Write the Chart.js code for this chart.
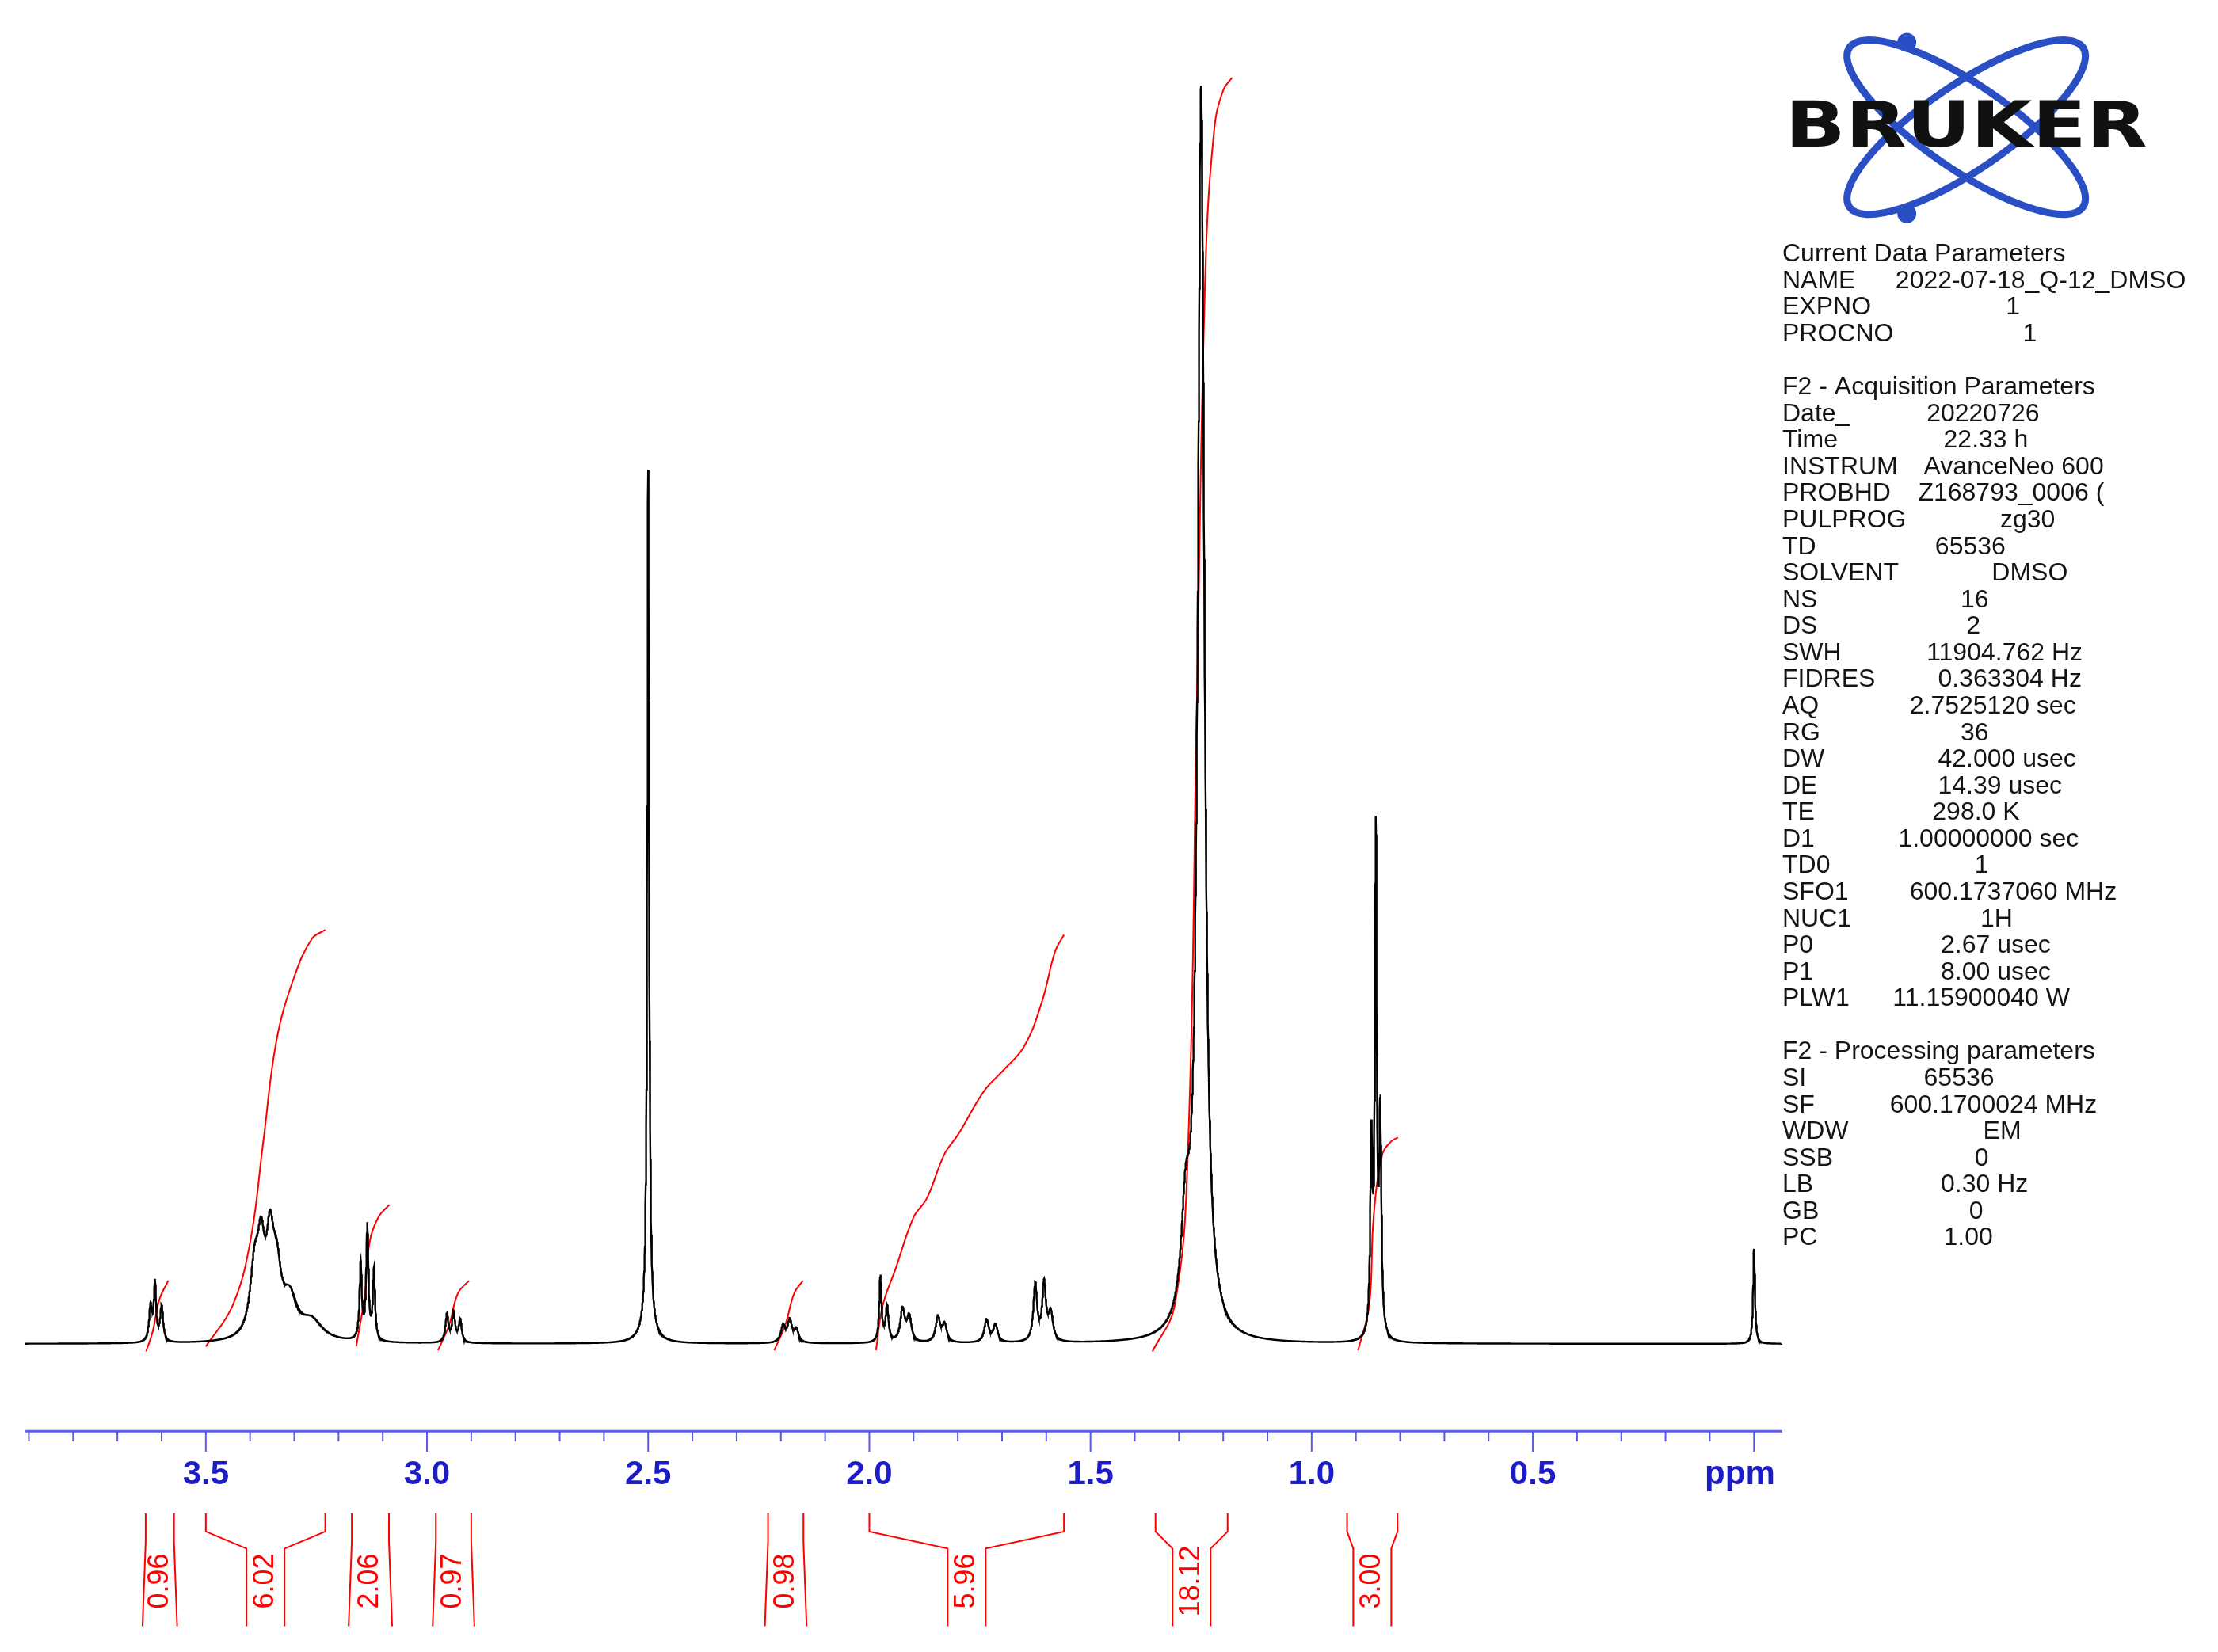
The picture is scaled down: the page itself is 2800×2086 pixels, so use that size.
<!DOCTYPE html>
<html><head><meta charset="utf-8">
<script src="https://cdn.jsdelivr.net/npm/chart.js@4.4.1/dist/chart.umd.min.js"></script>
<style>html,body{margin:0;padding:0;background:#fff;}canvas{display:block;}</style>
</head><body>
<canvas id="c" width="2800" height="2086"></canvas>
<script>
// ---- data ----
const peakPpm = [3.625,3.615,3.600, 3.39,3.375,3.355,3.34,3.31,3.26, 3.15,3.135,3.12, 2.955,2.94,2.925, 2.50,2.50, 2.195,2.18,2.165, 1.975,1.96,1.925,1.91,1.845,1.83,1.735,1.715,1.625,1.605,1.59, 1.25,1.285, 0.865,0.855,0.845, 0.00];
const peakHeight = [0.028,0.045,0.028, 0.05,0.06,0.065,0.045,0.03,0.015, 0.06,0.09,0.055, 0.022,0.024,0.018, 0.68,0.01, 0.013,0.017,0.01, 0.052,0.028,0.026,0.02,0.02,0.014,0.018,0.014,0.045,0.045,0.022, 0.985,0.08, 0.15,0.39,0.17, 0.075];
const peakWidth = [0.004,0.003,0.004, 0.012,0.01,0.01,0.012,0.02,0.03, 0.003,0.003,0.003, 0.004,0.004,0.004, 0.0025,0.02, 0.006,0.006,0.006, 0.003,0.004,0.006,0.006,0.006,0.006,0.006,0.006,0.005,0.005,0.006, 0.009,0.012, 0.003,0.0025,0.003, 0.0025];
const integrals = [
 [[3.635,-0.006],[3.62,0.01],[3.605,0.035],[3.585,0.05]],
 [[3.50,-0.002],[3.44,0.03],[3.40,0.08],[3.37,0.16],[3.34,0.24],[3.30,0.29],[3.26,0.32],[3.23,0.327]],
 [[3.16,-0.002],[3.14,0.04],[3.13,0.08],[3.11,0.10],[3.085,0.11]],
 [[2.975,-0.005],[2.95,0.015],[2.93,0.04],[2.905,0.05]],
 [[2.215,-0.005],[2.19,0.015],[2.17,0.04],[2.15,0.05]],
 [[1.985,-0.005],[1.97,0.03],[1.94,0.06],[1.90,0.10],[1.87,0.115],[1.83,0.15],[1.80,0.165],[1.74,0.20],[1.70,0.215],[1.65,0.235],[1.61,0.27],[1.58,0.31],[1.56,0.323]],
 [[1.36,-0.006],[1.31,0.03],[1.28,0.15],[1.26,0.5],[1.24,0.85],[1.22,0.96],[1.20,0.99],[1.18,1.0]],
 [[0.895,-0.005],[0.87,0.03],[0.86,0.10],[0.84,0.15],[0.82,0.16],[0.805,0.163]]
];
const integralRanges = [[3.636,3.572],[3.50,3.23],[3.17,3.086],[2.98,2.90],[2.229,2.149],[2.00,1.56],[1.353,1.19],[0.92,0.806]];
const integralLabels = ["0.96","6.02","2.06","0.97","0.98","5.96","18.12","3.00"];
const tickLabels = ["3.5","3.0","2.5","2.0","1.5","1.0","0.5"];
const tickValues = [3.5,3.0,2.5,2.0,1.5,1.0,0.5];
const params = [
 ["Current Data Parameters",""],["NAME","2022-07-18_Q-12_DMSO",1340],["EXPNO","1",1418],["PROCNO","1",1430],null,
 ["F2 - Acquisition Parameters",""],["Date_","20220726",1362],["Time","22.33 h",1374],["INSTRUM","AvanceNeo 600",1360],
 ["PROBHD","Z168793_0006 (",1356],["PULPROG","zg30",1414],["TD","65536",1368],["SOLVENT","DMSO",1408],["NS","16",1386],
 ["DS","2",1390],["SWH","11904.762 Hz",1362],["FIDRES","0.363304 Hz",1370],["AQ","2.7525120 sec",1350],["RG","36",1386],
 ["DW","42.000 usec",1370],["DE","14.39 usec",1370],["TE","298.0 K",1366],["D1","1.00000000 sec",1342],["TD0","1",1396],
 ["SFO1","600.1737060 MHz",1350],["NUC1","1H",1400],["P0","2.67 usec",1372],["P1","8.00 usec",1372],["PLW1","11.15900040 W",1338],null,
 ["F2 - Processing parameters",""],["SI","65536",1360],["SF","600.1700024 MHz",1336],["WDW","EM",1402],["SSB","0",1396],
 ["LB","0.30 Hz",1372],["GB","0",1392],["PC","1.00",1374]
];
// ---- spectrum from peak list ----
const spectrum = [];
for (let i = 0; i <= 7940; i++) {
  const x = 3.908 - i * 0.0005;
  let y = 0;
  for (let k = 0; k < peakPpm.length; k++) { const d = (x - peakPpm[k]) / peakWidth[k]; y += peakHeight[k] / (1 + d * d); }
  spectrum.push({x, y});
}
const S = 2800 / 1568;
const datasets = [{data: spectrum, borderColor:'#000', borderWidth:2.4, pointRadius:0, showLine:true, tension:0}];
integrals.forEach(r => datasets.push({data: r.map(p=>({x:p[0], y:p[1]})), borderColor:'#ff0000', borderWidth:2, pointRadius:0, showLine:true, tension:0.4}));

const deco = {
 id:'deco',
 afterDraw(chart){
  const ctx = chart.ctx, xs = chart.scales.x;
  const axY = 1012*S;
  ctx.save();
  ctx.strokeStyle = '#5b5be6'; ctx.lineWidth = 3;
  ctx.beginPath(); ctx.moveTo(18*S, axY); ctx.lineTo(1260*S, axY); ctx.stroke();
  ctx.lineWidth = 2;
  for (let i = 0; i <= 39; i++) {
    const v = i/10; const px = xs.getPixelForValue(v);
    const major = i % 5 === 0;
    ctx.beginPath(); ctx.moveTo(px, axY); ctx.lineTo(px, axY + (major ? 26 : 13)); ctx.stroke();
  }
  ctx.fillStyle = '#1c1cc8'; ctx.font = 'bold 42px "Liberation Sans", Arial'; ctx.textAlign='center'; ctx.textBaseline='middle';
  tickValues.forEach((v,i)=> ctx.fillText(tickLabels[i], xs.getPixelForValue(v), 1043*S));
  ctx.fillText('ppm', 1230*S, 1043*S);
  ctx.strokeStyle = '#ff0000'; ctx.lineWidth = 2; ctx.fillStyle = '#ff0000';
  ctx.font = '36px "Liberation Sans", Arial';
  const yT = 1070*S, yB = 1150*S;
  integralRanges.forEach((r,i)=>{
    const a = xs.getPixelForValue(r[0]), b = xs.getPixelForValue(r[1]);
    const c = (a+b)/2, half = 24;
    if (b - a > 60) {
      ctx.beginPath();
      ctx.moveTo(a, yT); ctx.lineTo(a, 1083*S); ctx.lineTo(c-half, 1095*S); ctx.lineTo(c-half, yB);
      ctx.moveTo(b, yT); ctx.lineTo(b, 1083*S); ctx.lineTo(c+half, 1095*S); ctx.lineTo(c+half, yB);
      ctx.stroke();
    } else {
      ctx.beginPath();
      ctx.moveTo(a, yT); ctx.lineTo(a, 1090*S); ctx.lineTo(a-4, yB);
      ctx.moveTo(b, yT); ctx.lineTo(b, 1090*S); ctx.lineTo(b+4, yB);
      ctx.stroke();
    }
    ctx.save(); ctx.translate(c, 1118*S); ctx.rotate(-Math.PI/2);
    ctx.textAlign='center'; ctx.textBaseline='middle'; ctx.fillText(integralLabels[i], 0, 0); ctx.restore();
  });
  // logo
  const cx = 1390*S, cy = 90*S;
  ctx.strokeStyle = '#2a4fc4'; ctx.fillStyle = '#2a4fc4'; ctx.lineWidth = 9;
  ctx.beginPath(); ctx.ellipse(cx, cy, 100*S, 30*S, 0.6, 0, 2*Math.PI); ctx.stroke();
  ctx.beginPath(); ctx.ellipse(cx, cy, 100*S, 30*S, -0.6, 0, 2*Math.PI); ctx.stroke();
  ctx.beginPath(); ctx.arc(1348*S, 30*S, 12, 0, 2*Math.PI); ctx.fill();
  ctx.beginPath(); ctx.arc(1348*S, 151*S, 12, 0, 2*Math.PI); ctx.fill();
  ctx.fillStyle = '#111';
  ctx.font = 'bold 80px "DejaVu Sans"'; ctx.textAlign='left'; ctx.textBaseline='middle';
  const w = ctx.measureText('BRUKER').width;
  ctx.save(); ctx.translate(1262*S, 92*S); ctx.scale((256*S)/w, 1); ctx.fillText('BRUKER', 0, 0); ctx.restore();
  ctx.fillStyle = '#141414'; ctx.font = '32px "Liberation Sans", Arial'; ctx.textBaseline='middle'; ctx.textAlign='left';
  let y = 180;
  params.forEach(p=>{
    if (!p) { y += 18.8; return; }
    ctx.fillText(p[0], 1260*S, y*S);
    if (p[1]) ctx.fillText(p[1], p[2]*S, y*S);
    y += 18.8;
  });
  ctx.restore();
 }
};
new Chart(document.getElementById('c'), {
  type:'scatter',
  data:{datasets},
  options:{
    responsive:false, animation:false, devicePixelRatio:1,
    layout:{padding:{left:32, right:2800-2250, top:66, bottom:2086-1807}},
    plugins:{legend:{display:false}, tooltip:{enabled:false}},
    scales:{
      x:{type:'linear', reverse:true, min:-0.064, max:3.908, display:false},
      y:{type:'linear', min:-0.0688, max:1.02, display:false}
    }
  },
  plugins:[deco]
});
</script>
</body></html>
